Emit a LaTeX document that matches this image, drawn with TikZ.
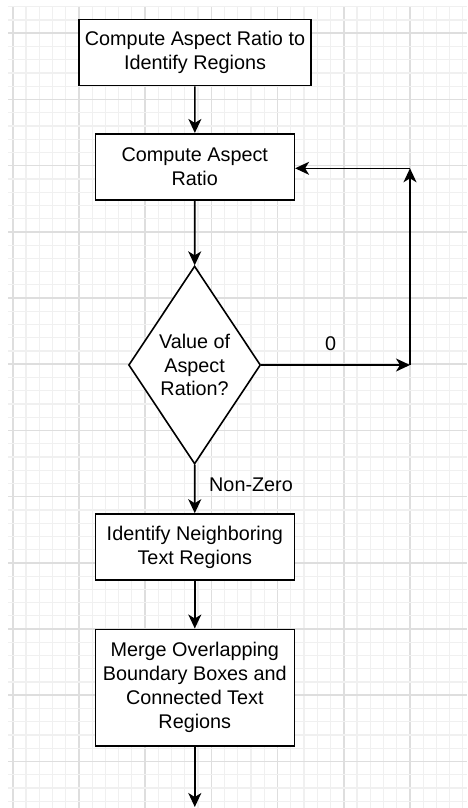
\documentclass[tikz,border=0pt]{standalone}
\usepackage{fontspec}
\setmainfont{Liberation Sans}
\usetikzlibrary{shapes.geometric,arrows.meta}
\definecolor{gridminor}{HTML}{F0F0F0}
\definecolor{gridmajor}{HTML}{DEDEDE}
\begin{document}
\begin{tikzpicture}[x=1pt,y=-1pt,
  every node/.style={font=\fontsize{19.8}{23.9}\selectfont},
  proc/.style={draw, line width=1.6pt, rectangle, align=center, inner sep=0pt, fill=white},
  dec/.style={draw, line width=1.6pt, diamond, aspect=0.6, align=center, inner sep=0pt, fill=white},
  conn/.style={line width=1.6pt, -{Stealth[length=14pt,width=13pt,inset=4pt]}},
  lbl/.style={inner sep=0pt},
  minorline/.style={draw=gridminor, line width=1.2pt},
  majorline/.style={draw=gridmajor, line width=1.6pt}]
\useasboundingbox (0,0) rectangle (467,808);
\fill[white] (0,0) rectangle (467,808);
% grid
\foreach \k in {0,...,34}{
  \pgfmathtruncatemacro{\m}{mod(\k,5)}
  \pgfmathsetmacro{\xx}{12.7+13.24*\k}
  \ifnum\m=0 \draw[majorline] (\xx,7) -- (\xx,808);
  \else \draw[minorline] (\xx,7) -- (\xx,808); \fi
}
\foreach \k in {0,...,60}{
  \pgfmathtruncatemacro{\m}{mod(\k,5)}
  \pgfmathsetmacro{\yy}{6.8+13.24*\k}
  \ifnum\m=2 \draw[majorline] (8,\yy) -- (467,\yy);
  \else \draw[minorline] (8,\yy) -- (467,\yy); \fi
}
% nodes
\node[proc, minimum width=232pt, minimum height=66pt] (b1) at (195,52.5) {Compute Aspect Ratio to\\Identify Regions};
\node[proc, minimum width=199pt, minimum height=66.5pt] (b2) at (194.8,167) {Compute Aspect\\Ratio};
\node[dec, minimum width=132pt, minimum height=198pt] (d) at (194.6,365) {Value of\\Aspect\\Ration?};
\node[proc, minimum width=199pt, minimum height=66pt] (b3) at (194.8,547) {Identify Neighboring\\Text Regions};
\node[proc, minimum width=199pt, minimum height=116.4pt] (b4) at (194.8,687.5) {Merge Overlapping\\Boundary Boxes and\\Connected Text\\Regions};
\coordinate (c1) at (410,365);
\coordinate (c2) at (410,168.3);
\coordinate (c3) at (194.8,807);
% connectors
\draw[conn] (b1) -- (b2);
\draw[conn] (b2) -- (d);
\draw[conn] (d.east) -- (c1);
\draw[conn] (c1) -- (c2);
\draw[conn] (c2) -- (c2 -| b2.east);
\draw[conn] (d) -- (b3);
\draw[conn] (b3) -- (b4);
\draw[conn] (b4) -- (c3);
% labels
\node[lbl] (l0) at (330.7,344) {0};
\node[lbl, anchor=west] (lnz) at (209,485) {Non-Zero};
\end{tikzpicture}
\end{document}
